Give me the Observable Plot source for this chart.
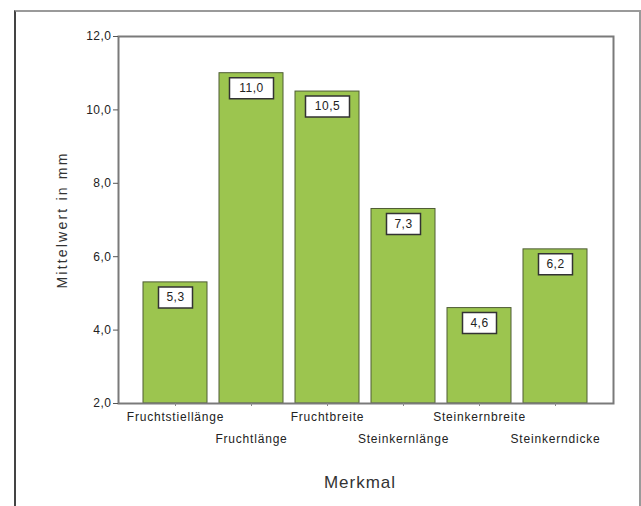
<!DOCTYPE html>
<html>
<head>
<meta charset="utf-8">
<script src="https://cdn.jsdelivr.net/npm/d3@7"></script>
<script src="https://cdn.jsdelivr.net/npm/@observablehq/plot@0.6"></script>
<style>
  html, body { margin: 0; padding: 0; background: #fff; overflow: hidden; width: 641px; height: 506px; }
  #outer { position: absolute; left: 14px; top: 10px; width: 627px; height: 540px;
           border: 2px solid #9a9a9a; border-left-color: #444; box-sizing: border-box; }
  #chart { position: absolute; left: 0; top: 0; }
</style>
</head>
<body>
<div id="outer"></div>
<div id="chart"></div>
<script>
const categories = ["Fruchtstiellänge", "Fruchtlänge", "Fruchtbreite", "Steinkernlänge", "Steinkernbreite", "Steinkerndicke"];
const values = [5.3, 11.0, 10.5, 7.3, 4.6, 6.2];
const yTicks = [2, 4, 6, 8, 10, 12];
const xTitle = "Merkmal";
const yTitle = "Mittelwert in mm";

const fmt = v => v.toFixed(1).replace(".", ",");
const data = categories.map((c, i) => ({cat: c, value: values[i], label: fmt(values[i])}));

function box(w, h) {
  return { draw(ctx) { ctx.rect(-w / 2, -h / 2, w, h); } };
}

const row1 = categories.filter((d, i) => i % 2 === 0);
const row2 = categories.filter((d, i) => i % 2 === 1);

const plot = Plot.plot({
  width: 641,
  height: 506,
  marginLeft: 118,
  marginRight: 28,
  marginTop: 36,
  marginBottom: 103,
  style: { fontFamily: "'Liberation Sans', Arial, sans-serif", background: "transparent", color: "#222" },
  x: { type: "band", domain: categories, paddingInner: 0.157, paddingOuter: 0.318 },
  y: { domain: [2, 12] },
  marks: [
    Plot.barY(data, { x: "cat", y1: 2, y2: "value", fill: "#9cc54f", stroke: "#4f5c35", strokeWidth: 1 }),
    Plot.frame({ stroke: "#7a7a7a", strokeWidth: 2 }),
    Plot.axisY({ ticks: yTicks, tickSize: 5, tickPadding: 2, tickFormat: fmt, fontSize: 12, label: null, stroke: "#555" }),
    Plot.axisX({ tickSize: 3, tickFormat: () => "", label: null, stroke: "#888" }),
    Plot.text(row1, { x: d => d, frameAnchor: "bottom", dy: 17, fontSize: 12, fill: "#222" }),
    Plot.text(row2, { x: d => d, frameAnchor: "bottom", dy: 39, fontSize: 12, fill: "#222" }),
    Plot.dot(data.filter(d => d.label.length <= 3), { x: "cat", y: "value", dy: 15, symbol: box(34, 21), fill: "#fff", stroke: "#333", strokeWidth: 1.5 }),
    Plot.dot(data.filter(d => d.label.length > 3), { x: "cat", y: "value", dy: 15, symbol: box(44, 21), fill: "#fff", stroke: "#333", strokeWidth: 1.5 }),
    Plot.text(data, { x: "cat", y: "value", dy: 15, text: "label", fontSize: 12, fill: "#222" }),
    Plot.text([xTitle], { frameAnchor: "bottom", dx: -6, dy: 84, fontSize: 17, fill: "#333" }),
    Plot.text([yTitle], { frameAnchor: "left", textAnchor: "middle", dx: -56, rotate: -90, fontSize: 14, fill: "#333" })
  ]
});
// letter spacing per text mark (in mark order)
const spacing = ["0.8px", "0.8px", "0.5px", "1px", "2.2px"];
const textGroups = plot.querySelectorAll('g[aria-label="text"]');
textGroups.forEach((g, i) => {
  g.querySelectorAll("text").forEach(t => t.style.letterSpacing = spacing[i] || "0px");
});
plot.querySelectorAll('g[aria-label="y-axis tick label"] text').forEach(t => t.style.letterSpacing = "0.5px");
document.getElementById("chart").appendChild(plot);
</script>
</body>
</html>
